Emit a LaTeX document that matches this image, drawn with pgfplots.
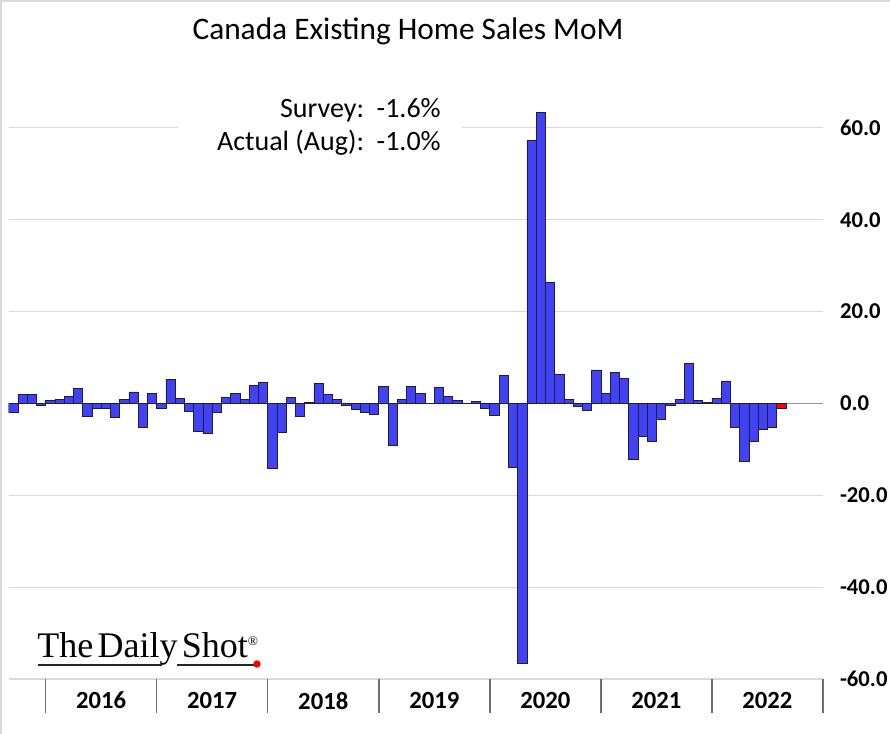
\documentclass[border=0pt]{standalone}
\usepackage{fontspec}
\setmainfont{Carlito}
\newfontfamily\logofont{Liberation Serif}
\usepackage{pgfplots}
\pgfplotsset{compat=1.18}
\usepackage{pgfplotstable}

\definecolor{barblue}{RGB}{66,66,245}
\definecolor{barline}{RGB}{30,30,60}
\definecolor{gridgray}{RGB}{217,217,217}
\definecolor{zerogray}{RGB}{150,150,150}
\definecolor{sepgray}{RGB}{110,110,110}

% month index: 0 = Jan 2016
\pgfplotstableread{
x y
-4 -1.9
-3 2.0
-2 2.0
-1 -0.4
0 0.6
1 0.9
2 1.6
3 3.3
4 -2.8
5 -1.0
6 -1.1
7 -3.0
8 0.9
9 2.5
10 -5.3
11 2.2
12 -1.1
13 5.2
14 1.1
15 -1.7
16 -6.0
17 -6.6
18 -1.9
19 1.4
20 2.2
21 0.9
22 4.0
23 4.5
24 -14.2
25 -6.2
26 1.4
27 -2.8
28 0.2
29 4.3
30 2.0
31 0.9
32 -0.4
33 -1.3
34 -2.0
35 -2.4
36 3.8
37 -9.1
38 0.9
39 3.8
40 2.1
41 0.1
42 3.6
43 1.6
44 0.7
45 0.0
46 0.5
47 -1.0
48 -2.6
49 6.1
50 -14.0
51 -56.5
52 57.2
53 63.3
54 26.4
55 6.4
56 0.9
57 -0.6
58 -1.4
59 7.3
60 2.2
61 6.7
62 5.4
63 -12.2
64 -7.2
65 -8.3
66 -3.5
67 -0.3
68 0.9
69 8.7
70 0.7
71 0.3
72 1.1
73 4.9
74 -5.2
75 -12.5
76 -8.3
77 -5.7
78 -5.3
}\sales
\pgfplotstableread{
x y
79 -1.0
}\latest

\newcommand{\px}[2]{({#1*0.75pt},{(734-#2)*0.75pt})}

\begin{document}
\begin{tikzpicture}
\begin{axis}[
    at={(6.45pt,41.25pt)}, anchor=south west,
    scale only axis,
    width=610.8pt, height=430.5pt,
    xmin=-4.5, xmax=83.5,
    ymin=-60, ymax=65,
    axis line style={draw=none},
    ybar, bar width=1, bar shift=0pt,
    ymajorgrids,
    grid style={draw=gridgray, line width=0.8pt},
    ytick={-60,-40,-20,0,20,40,60},
    yticklabels={-60.0,-40.0,-20.0,0.0,20.0,40.0,60.0},
    ytick pos=right, yticklabel pos=right,
    ytick style={draw=none},
    yticklabel style={font=\fontsize{17}{20}\selectfont\bfseries, anchor=west, xshift=5pt},
    extra y ticks={0}, extra y tick labels={},
    extra y tick style={grid style={draw=zerogray, line width=1pt}, major tick style={draw=none}},
    xtick={5.5,17.5,...,77.5},
    xticklabels={2016,2017,2018,2019,2020,2021,2022},
    xtick pos=left,
    major x tick style={draw=none},
    minor xtick={-0.5,11.5,...,83.5},
    minor x tick style={draw=sepgray, line width=1.1pt},
    minor tick length=25.5pt,
    tick align=outside,
    xticklabel style={font=\fontsize{18.5}{20}\selectfont\bfseries, yshift=-2pt},
]
\addplot[fill=barblue, draw=barline, line width=0.5pt] table[x=x, y=y] {\sales};
\addplot[fill=red, draw=barline, line width=0.5pt] table[x=x, y=y] {\latest};
\end{axis}

% frame edges
\draw[gridgray, line width=1.5pt] \px{1}{734} -- \px{1}{1} -- \px{890}{1};

% title
\node[font=\fontsize{23.5}{26}\selectfont] at \px{408}{31} {Canada Existing Home Sales MoM};

% survey box
\fill[white] \px{178}{90} rectangle \px{462}{164};
\node[anchor=east, align=right, inner sep=0pt, font=\fontsize{21}{25}\selectfont] at \px{441}{127}
  {Survey:\ \ -1.6\%\\Actual (Aug):\ \ -1.0\%};

% logo
\node[anchor=base west, inner sep=0pt, font=\fontsize{27}{30}\logofont] at \px{37}{658}
  {The\hspace{0.12em}Daily\hspace{0.12em}Shot\textsuperscript{\fontsize{10}{10}\selectfont\textregistered}};
\draw[black!85, line width=1.6pt] \px{38}{665} -- \px{162}{665};
\draw[black!85, line width=1.6pt] \px{177}{665} -- \px{257}{665};
\fill[red] \px{257}{664} circle (2.8pt);

\pgfresetboundingbox
\path (0,0) rectangle (667.5pt,550.5pt);
\end{tikzpicture}
\end{document}
